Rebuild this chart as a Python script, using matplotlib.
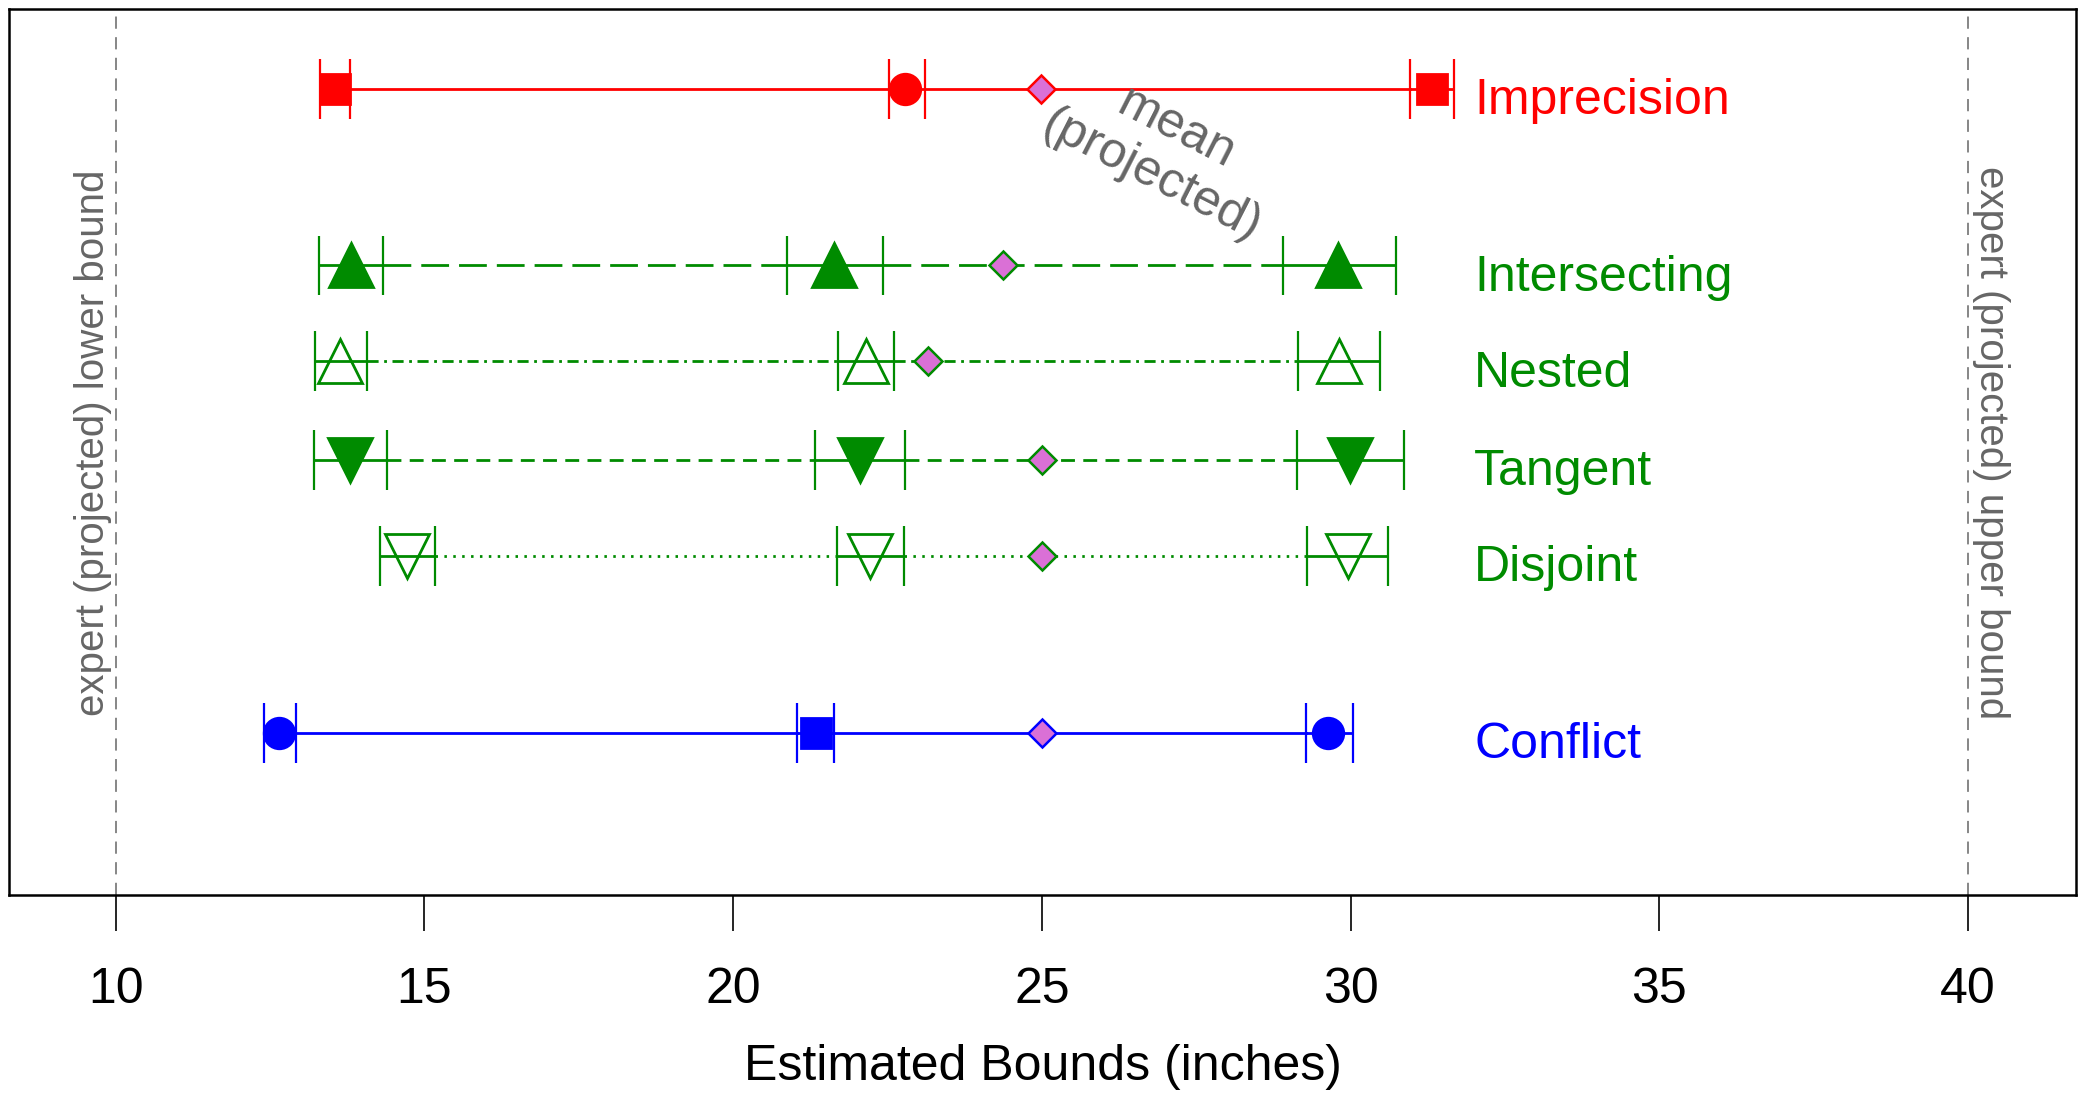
import matplotlib
matplotlib.use('Agg')
import matplotlib.pyplot as plt

plt.rcParams['font.family'] = ['Liberation Sans', 'DejaVu Sans']

# rows, top to bottom
rows = ['Imprecision', 'Intersecting', 'Nested', 'Tangent', 'Disjoint', 'Conflict']
row_y = [6.66, 4.83, 3.84, 2.82, 1.83, 0.0]

# each bound: left tick, estimate, right tick
lower_left = [13.31, 13.30, 13.23, 13.21, 14.28, 12.41]
lower_est = [13.55, 13.81, 13.64, 13.80, 14.72, 12.65]
lower_right = [13.80, 14.33, 14.07, 14.40, 15.18, 12.92]
mid_left = [22.53, 20.87, 21.70, 21.32, 21.69, 21.04]
mid_est = [22.79, 21.64, 22.15, 22.05, 22.22, 21.34]
mid_right = [23.10, 22.42, 22.60, 22.79, 22.76, 21.63]
upper_left = [30.96, 28.90, 29.15, 29.13, 29.30, 29.27]
upper_est = [31.31, 29.80, 29.81, 29.99, 29.96, 29.63]
upper_right = [31.67, 30.73, 30.48, 30.86, 30.60, 30.04]
means = [24.98, 24.37, 23.16, 25.0, 25.0, 25.0]

expert_lower = 10
expert_upper = 40
xticks = [10, 15, 20, 25, 30, 35, 40]

red = '#FF0000'
green = '#008B00'
blue = '#0000FF'
gray = '#666666'

colors = [red, green, green, green, green, blue]
styles = ['-', (0, (10, 3.6)), (0, (4, 2, 1, 2)), (0, (5, 3)), (0, (0.9, 2.3)), '-']
end_mk = ['s', '^', '^', 'v', 'v', 'o']
mid_mk = ['o', '^', '^', 'v', 'v', 's']
filled = [True, True, False, True, False, True]
mk_size = {'s': 21, 'o': 22, '^': 31, 'v': 31}

fig = plt.figure(figsize=(20.85, 11.01), dpi=100)
ax = fig.add_axes([0.0045, 0.1871, 0.991, 0.8045])

ax.axvline(expert_lower, color=gray, lw=1.1, ls=(0, (8, 5.5)))
ax.axvline(expert_upper, color=gray, lw=1.1, ls=(0, (8, 5.5)))

for i, name in enumerate(rows):
    y = row_y[i]
    c = colors[i]
    # solid parts inside each bracket
    for a, b in [(lower_left[i], lower_right[i]), (mid_left[i], mid_right[i]),
                 (upper_left[i], upper_right[i])]:
        ax.plot([a, b], [y, y], color=c, lw=2, solid_capstyle='butt')
    # styled parts between brackets
    ax.plot([lower_right[i], mid_left[i]], [y, y], color=c, lw=2, ls=styles[i])
    ax.plot([mid_right[i], upper_left[i]], [y, y], color=c, lw=2, ls=styles[i])
    ax.vlines([lower_left[i], lower_right[i], mid_left[i], mid_right[i],
               upper_left[i], upper_right[i]], y - 0.31, y + 0.31, color=c, lw=1.6)
    fc = c if filled[i] else 'none'
    for x, m in [(lower_est[i], end_mk[i]), (mid_est[i], mid_mk[i]),
                 (upper_est[i], end_mk[i])]:
        ax.plot(x, y, marker=m, ms=mk_size[m], mfc=fc, mec=c, mew=2, ls='none')
    ax.plot(means[i], y, marker='D', ms=14, mfc='#DA70D6', mec=c, mew=1.8, ls='none')
    ax.text(32.0, y - 0.13, name, color=c, fontsize=36, ha='left', va='center')

ax.text(26.98, 6.0, 'mean\n(projected)', color=gray, fontsize=36, rotation=-27,
        ha='center', va='center', multialignment='center', rotation_mode='anchor')
ax.text(9.63, 3.0, 'expert (projected) lower bound', color=gray, fontsize=29,
        rotation=90, ha='center', va='center')
ax.text(40.37, 3.0, 'expert (projected) upper bound', color=gray, fontsize=29,
        rotation=270, ha='center', va='center')

ax.set_xlim(8.28, 41.74)
ax.set_ylim(-1.68, 7.48)
ax.set_xticks(xticks)
ax.set_xticklabels([str(t) for t in xticks])
ax.set_yticks([])
ax.tick_params(axis='x', direction='out', length=26, width=1.2, pad=26, labelsize=36)
for s in ax.spines.values():
    s.set_linewidth(1.8)
ax.set_xlabel('Estimated Bounds (inches)', fontsize=36, labelpad=22)

fig.savefig('out.png', dpi=100)
